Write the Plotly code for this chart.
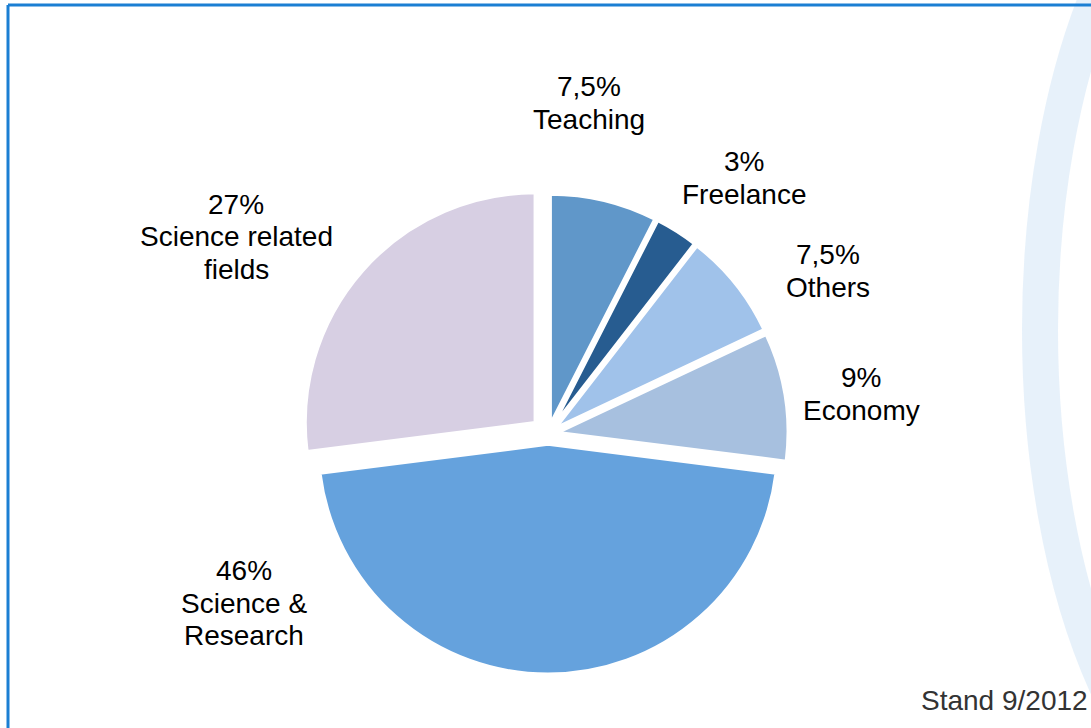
import plotly.graph_objects as go

categories = ["Teaching", "Freelance", "Others", "Economy", "Science &<br>Research", "Science related<br>fields"]
shares = [7.5, 3, 7.5, 9, 46, 27]
share_labels = ["7,5%", "3%", "7,5%", "9%", "46%", "27%"]
colors = ["#6097c9", "#275c90", "#a0c2ea", "#a7c0df", "#65a2dd", "#d7cfe3"]
pulls = [0.045, 0.045, 0.045, 0.045, 0.045, 0.075]

W, H = 1091, 728
# label block centres in pixels (layout only)
label_pos = [(589, 103), (744, 178), (828, 271), (861, 394), (244, 603), (236, 237)]
LINE = 32.5

fig = go.Figure()
fig.add_trace(go.Pie(
    values=shares,
    labels=categories,
    sort=False,
    direction="clockwise",
    rotation=0,
    pull=pulls,
    marker=dict(colors=colors, line=dict(color="white", width=3)),
    textinfo="none",
    hoverinfo="label+percent",
    showlegend=False,
    domain=dict(x=[301 / W, 795 / W], y=[(H - 681) / H, (H - 187) / H]),
))

font = dict(family="Liberation Sans, Arial, sans-serif", size=28, color="#000000")
annotations = []
for (px, py), pct, cat in zip(label_pos, share_labels, categories):
    lines = [pct] + cat.split("<br>")
    n = len(lines)
    for i, ln in enumerate(lines):
        yy = py + (i - (n - 1) / 2) * LINE
        annotations.append(dict(
            x=px / W, y=1 - yy / H, xref="paper", yref="paper",
            text=ln, showarrow=False,
            xanchor="center", yanchor="middle", align="center", font=font,
        ))
annotations.append(dict(
    x=919 / W, y=1 - 700 / H, xref="paper", yref="paper",
    text="Stand 9/2012", showarrow=False, xanchor="left", yanchor="middle",
    font=dict(family="Liberation Sans, Arial, sans-serif", size=28, color="#333333"),
))

shapes = [
    # decorative globe hint
    dict(type="circle", xref="paper", yref="paper", layer="below",
         x0=(1265 - 225) / W, x1=(1265 + 225) / W, y0=1 - (330 + 500) / H, y1=1 - (330 - 500) / H,
         line=dict(color="rgba(185,215,242,0.35)", width=36)),
    # frame
    dict(type="line", xref="paper", yref="paper", x0=8 / W, x1=1, y0=1 - 5 / H, y1=1 - 5 / H,
         line=dict(color="#1b7fd3", width=3)),
    dict(type="line", xref="paper", yref="paper", x0=8 / W, x1=8 / W, y0=0, y1=1 - 5 / H,
         line=dict(color="#1b7fd3", width=3)),
]

fig.update_layout(
    width=W, height=H,
    margin=dict(l=0, r=0, t=0, b=0),
    paper_bgcolor="white", plot_bgcolor="white",
    annotations=annotations, shapes=shapes,
)

fig.write_html("out.html")
